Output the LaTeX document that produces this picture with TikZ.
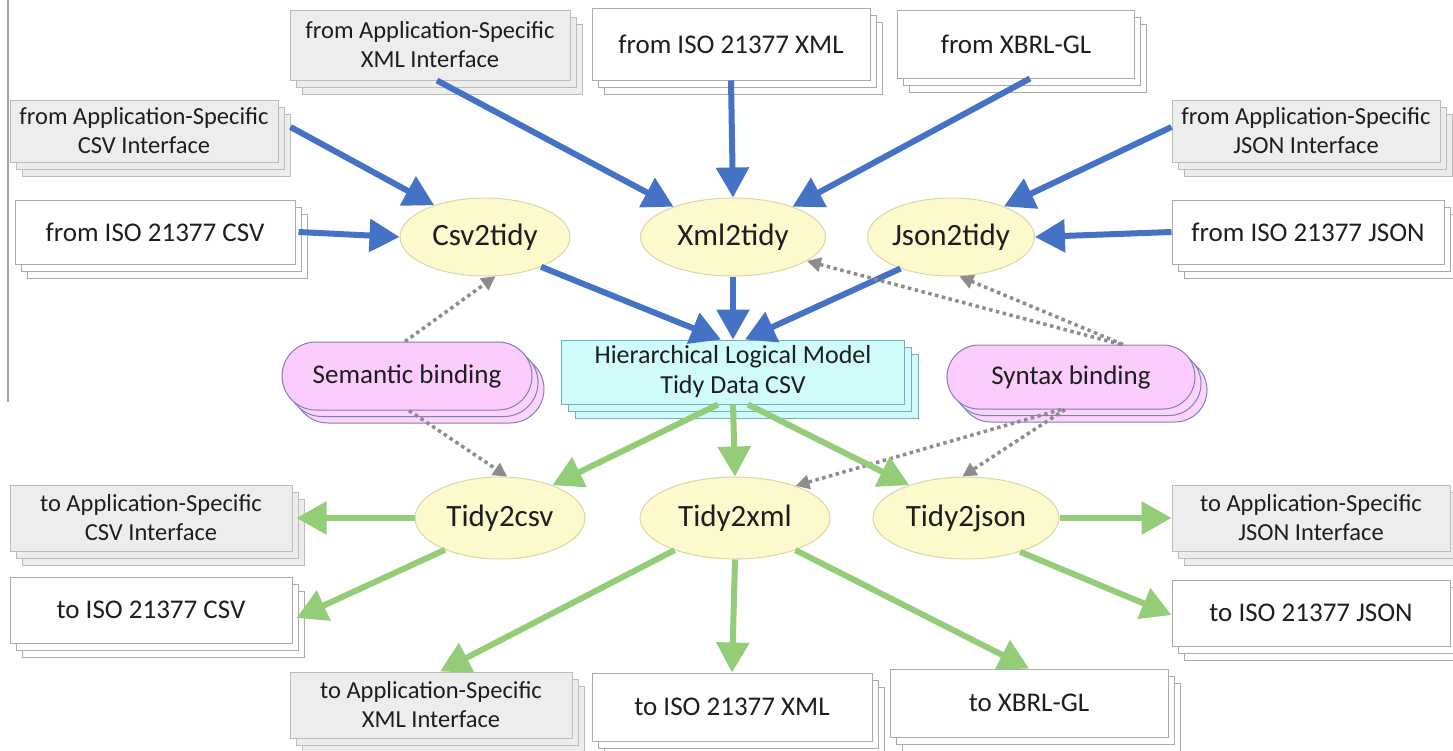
\documentclass[tikz,border=0pt]{standalone}
\usepackage{fontspec}
\setmainfont{Carlito}
\usetikzlibrary{shadows,shapes.misc,shapes.geometric,arrows.meta}
\definecolor{arrblue}{HTML}{4472C4}
\definecolor{arrgreen}{HTML}{93CD78}
\definecolor{boxgray}{HTML}{EDEDED}
\definecolor{bordgray}{HTML}{ABABAB}
\definecolor{ellfill}{HTML}{FCF9CC}
\definecolor{ellbord}{HTML}{D9D6A8}
\definecolor{hubfill}{HTML}{CFFBFB}
\definecolor{hubbord}{HTML}{74AFBF}
\definecolor{pinkfill}{HTML}{FCCCFC}
\definecolor{pinkbord}{HTML}{7F7FC0}
\definecolor{txt}{HTML}{1E1E1E}
\definecolor{dotgray}{HTML}{8C8C8C}
\begin{document}
\begin{tikzpicture}[x=1pt,y=-1pt,
  every node/.style={text=txt},
  boxfont/.style={font=\fontsize{27}{30}\selectfont},
  smallfont/.style={font=\fontsize{24.5}{29}\selectfont},
  whitebox/.style={rectangle, boxfont, draw=bordgray, line width=1pt, fill=white, align=center, inner sep=0pt,
     double copy shadow={shadow xshift=6pt, shadow yshift=-7pt, fill=white, draw=bordgray, line width=1pt}},
  graybox/.style={rectangle, smallfont, draw=bordgray!80, line width=1pt, fill=boxgray, align=center, inner sep=0pt,
     double copy shadow={shadow xshift=6pt, shadow yshift=-7pt, fill=boxgray, draw=bordgray!80, line width=1pt}},
  proc/.style={ellipse, font=\fontsize{31}{34}\selectfont, draw=ellbord, line width=1pt, fill=ellfill, inner sep=0pt},
  hubbox/.style={rectangle, font=\fontsize{26}{30}\selectfont, draw=hubbord, line width=1pt, fill=hubfill, align=center, inner sep=0pt,
     double copy shadow={shadow xshift=7pt, shadow yshift=-7pt, fill=hubfill, draw=hubbord, line width=1pt}},
  bindbox/.style={rounded rectangle, font=\fontsize{27}{30}\selectfont, draw=pinkbord, line width=1pt, fill=pinkfill, inner sep=0pt,
     double copy shadow={shadow xshift=6pt, shadow yshift=-6.5pt, fill=pinkfill!85, draw=pinkbord, line width=1pt}},
  bluearr/.style={draw=arrblue, line width=6pt, -{Triangle[length=30pt,width=32pt]}},
  greenarr/.style={draw=arrgreen, line width=6pt, -{Triangle[length=30pt,width=32pt]}},
  dotarr/.style={draw=dotgray, line width=3.5pt, dash pattern=on 3.5pt off 3.5pt, -{Triangle[length=14pt,width=14pt]}},
]
\useasboundingbox (0,0) rectangle (1453,750);
\draw[draw=gray!70, line width=2pt] (8,0) -- (8,402);

% input boxes
\node[graybox, minimum width=280pt, minimum height=70pt] (appXMLin) at (430,45) {from Application-Specific\\XML Interface};
\node[whitebox, minimum width=278pt, minimum height=72pt] (isoXMLin) at (731,44) {from ISO 21377 XML};
\node[whitebox, minimum width=237pt, minimum height=68pt] (xbrlIn) at (1016,44) {from XBRL-GL};
\node[graybox, minimum width=268pt, minimum height=62pt] (appCSVin) at (144,131) {from Application-Specific\\CSV Interface};
\node[whitebox, minimum width=280pt, minimum height=64pt] (isoCSVin) at (155,232) {from ISO 21377 CSV};
\node[graybox, minimum width=268pt, minimum height=62pt] (appJSONin) at (1306,131) {from Application-Specific\\JSON Interface};
\node[whitebox, minimum width=272pt, minimum height=64pt] (isoJSONin) at (1308,232) {from ISO 21377 JSON};

% processes
\node[proc, minimum width=170pt, minimum height=78pt] (csv) at (485,237) {Csv2tidy};
\node[proc, minimum width=185pt, minimum height=78pt] (xml) at (733,237) {Xml2tidy};
\node[proc, minimum width=160pt, minimum height=78pt] (json) at (951,237) {Json2tidy};

% hub and bindings
\node[hubbox, minimum width=343pt, minimum height=64pt] (hub) at (733,372) {Hierarchical Logical Model\\Tidy Data CSV};
\node[bindbox, minimum width=250pt, minimum height=68pt] (sem) at (407,376) {Semantic binding};
\node[bindbox, minimum width=248pt, minimum height=64pt] (syn) at (1071,377) {Syntax binding};

% output processes
\node[proc, minimum width=170pt, minimum height=82pt] (tcsv) at (500,518) {Tidy2csv};
\node[proc, minimum width=190pt, minimum height=82pt] (txml) at (735,518) {Tidy2xml};
\node[proc, minimum width=186pt, minimum height=82pt] (tjson) at (966,518) {Tidy2json};

% output boxes
\node[graybox, minimum width=282pt, minimum height=66pt] (appCSVout) at (151,518) {to Application-Specific\\CSV Interface};
\node[whitebox, minimum width=282pt, minimum height=66pt] (isoCSVout) at (151,610) {to ISO 21377 CSV};
\node[graybox, minimum width=282pt, minimum height=66pt] (appXMLout) at (431,705) {to Application-Specific\\XML Interface};
\node[whitebox, minimum width=280pt, minimum height=68pt] (isoXMLout) at (732,707) {to ISO 21377 XML};
\node[whitebox, minimum width=278pt, minimum height=68pt] (xbrlOut) at (1029,703) {to XBRL-GL};
\node[graybox, minimum width=278pt, minimum height=66pt] (appJSONout) at (1311,518) {to Application-Specific\\JSON Interface};
\node[whitebox, minimum width=278pt, minimum height=66pt] (isoJSONout) at (1311,613) {to ISO 21377 JSON};

% blue arrows
\draw[bluearr] ([xshift=7pt]appXMLin.south) -- (xml.153);
\draw[bluearr] (isoXMLin.south) -- (xml.north);
\draw[bluearr] ([xshift=14pt]xbrlIn.south) -- (xml.27);
\draw[bluearr] ([xshift=12pt,yshift=4pt]appCSVin.east) -- (csv.148);
\draw[bluearr] ([xshift=3pt]isoCSVin.east) -- (csv.west);
\draw[bluearr] ([yshift=4pt]appJSONin.west) -- (json.30);
\draw[bluearr] (isoJSONin.west) -- (json.east);
\draw[bluearr] (csv.-28) -- ([xshift=-12pt]hub.north);
\draw[bluearr] (xml.south) -- (hub.north);
\draw[bluearr] (json.-148) -- ([xshift=12pt]hub.north);

% dotted binding arrows
\draw[dotarr] ([xshift=-2pt]sem.north) -- (csv.-75);
\draw[dotarr] ([xshift=2pt]sem.south) -- (tcsv.80);
\draw[dotarr] ([xshift=50pt]syn.north) -- (xml.-18);
\draw[dotarr] ([xshift=52pt]syn.north) -- (json.-78);
\draw[dotarr] ([xshift=-10pt]syn.south) -- (txml.28);
\draw[dotarr] ([xshift=-6pt]syn.south) -- (tjson.95);

% green arrows
\draw[greenarr] ([xshift=-15pt]hub.south) -- (tcsv.32);
\draw[greenarr] (hub.south) -- (txml.north);
\draw[greenarr] ([xshift=15pt]hub.south) -- (tjson.150);
\draw[greenarr] (tcsv.west) -- ([xshift=4pt]appCSVout.east);
\draw[greenarr] (tcsv.-150) -- ([xshift=4pt,yshift=-8pt]isoCSVout.east);
\draw[greenarr] (txml.-152) -- ([xshift=9pt]appXMLout.north);
\draw[greenarr] (txml.south) -- (isoXMLout.north);
\draw[greenarr] (txml.-28) -- (xbrlOut.north);
\draw[greenarr] (tjson.east) -- (appJSONout.west);
\draw[greenarr] (tjson.-32) -- ([yshift=-2pt]isoJSONout.west);
\end{tikzpicture}
\end{document}
